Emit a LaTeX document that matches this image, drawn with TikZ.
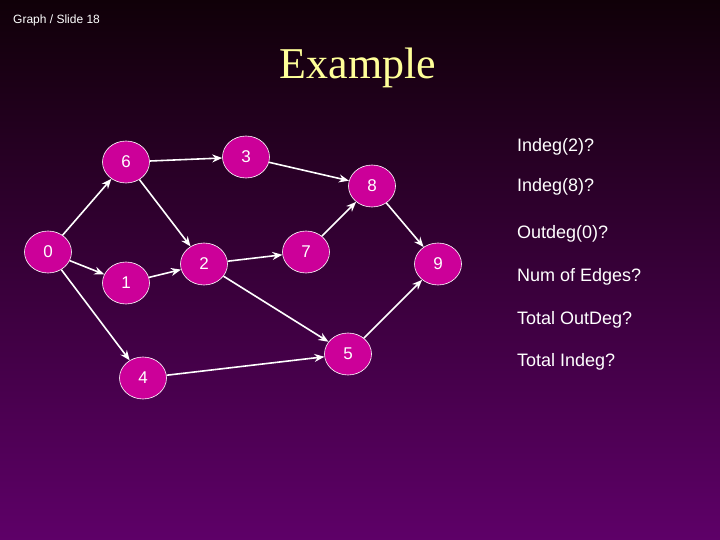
\documentclass[tikz,border=0pt]{standalone}
\usepackage{fontspec}
\setmainfont{Liberation Serif}
\setsansfont{Liberation Sans}
\usetikzlibrary{shapes.geometric,arrows.meta}
\definecolor{bgtop}{HTML}{100008}
\definecolor{bgbot}{HTML}{5E0068}
\definecolor{vfill}{HTML}{CC0099}
\definecolor{titlecol}{HTML}{FFFF99}
\tikzset{
  vert/.style={ellipse,draw=white,line width=0.6pt,fill=vfill,minimum width=47pt,minimum height=42pt,inner sep=0pt,text=white,font=\sffamily\fontsize{17}{17}\selectfont},
  edge/.style={draw=white,line width=1.6pt,-{Stealth[length=10pt,width=8pt]}},
  ques/.style={anchor=west,text=white,inner sep=0pt,font=\sffamily\fontsize{18}{18}\selectfont}
}
\begin{document}
\begin{tikzpicture}[x=1pt,y=-1pt]
\shade[top color=bgtop,bottom color=bgbot] (0,0) rectangle (720,540);
\useasboundingbox (0,0) rectangle (720,540);
\node[text=white,font=\sffamily\fontsize{12}{12}\selectfont,anchor=west,inner sep=0pt] (hdr) at (13,20) {Graph / Slide 18};
\node[text=titlecol,font=\fontsize{44}{44}\selectfont] (ttl) at (358,68) {Example};
% vertices
\node[vert] (v6) at (126,162) {6};
\node[vert] (v3) at (246,157) {3};
\node[vert] (v0) at (48,252) {0};
\node[vert] (v2) at (204,264) {2};
\node[vert] (v1) at (126,283) {1};
\node[vert] (v8) at (372,186) {8};
\node[vert] (v7) at (306,252) {7};
\node[vert] (v9) at (438,264) {9};
\node[vert] (v5) at (348,354) {5};
\node[vert] (v4) at (143,378) {4};
% edges
\foreach \a/\b in {v0/v6,v0/v1,v0/v4,v6/v3,v6/v2,v1/v2,v3/v8,v2/v7,v2/v5,v7/v8,v8/v9,v4/v5,v5/v9}
  \draw[edge] (\a) -- (\b);
% questions
\node[ques] (q1) at (517,147) {Indeg(2)?};
\node[ques] (q2) at (517,187) {Indeg(8)?};
\node[ques] (q3) at (517,234) {Outdeg(0)?};
\node[ques] (q4) at (517,277) {Num of Edges?};
\node[ques] (q5) at (517,320) {Total OutDeg?};
\node[ques] (q6) at (517,362) {Total Indeg?};
\end{tikzpicture}
\end{document}
